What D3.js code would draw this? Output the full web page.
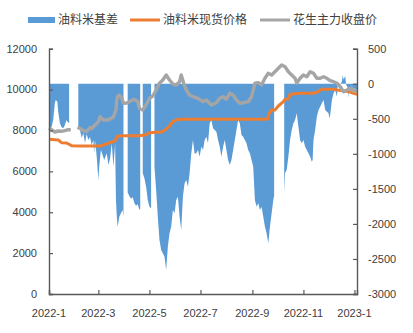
<!DOCTYPE html>
<html><head><meta charset="utf-8">
<script src="https://cdn.jsdelivr.net/npm/d3@7"></script>
<style>
html,body{margin:0;padding:0;background:#fff;}
svg{display:block;}
</style></head>
<body>
<svg id="chart" width="413" height="333"></svg>
<script>
// ---- data ----
const seriesNames = ["油料米基差", "油料米现货价格", "花生主力收盘价"];
const leftTicks = [0, 2000, 4000, 6000, 8000, 10000, 12000];
const rightTicks = [-3000, -2500, -2000, -1500, -1000, -500, 0, 500];
const xTickDates = ["2022-01-01","2022-03-01","2022-05-01","2022-07-01","2022-09-01","2022-11-01","2023-01-01"];
const xTickLabels = ["2022-1","2022-3","2022-5","2022-7","2022-9","2022-11","2023-1"];

const basisDates = ["2022-01-01","2022-01-04","2022-01-06","2022-01-08","2022-01-09","2022-01-11","2022-01-12","2022-01-14","2022-01-16","2022-01-18","2022-01-20","2022-01-22","2022-01-23","2022-01-25","2022-01-30",
"2022-02-05","2022-02-07","2022-02-09","2022-02-11","2022-02-13","2022-02-15","2022-02-17","2022-02-19","2022-02-21","2022-02-23","2022-02-24","2022-02-25","2022-02-27","2022-03-01","2022-03-02","2022-03-04","2022-03-06","2022-03-08","2022-03-11","2022-03-13","2022-03-15","2022-03-17","2022-03-19","2022-03-21","2022-03-22","2022-03-23","2022-03-24","2022-03-26","2022-03-28","2022-03-30","2022-03-31","2022-04-02",
"2022-04-05","2022-04-07","2022-04-09","2022-04-11","2022-04-13","2022-04-15","2022-04-17","2022-04-19","2022-04-20","2022-04-22",
"2022-04-23","2022-04-25","2022-04-27","2022-04-29","2022-05-01","2022-05-03","2022-05-05",
"2022-05-07","2022-05-09","2022-05-11","2022-05-13","2022-05-15","2022-05-17","2022-05-19","2022-05-21","2022-05-23","2022-05-25","2022-05-27","2022-05-29","2022-05-31","2022-06-02","2022-06-04","2022-06-06","2022-06-08","2022-06-10","2022-06-12","2022-06-14","2022-06-16","2022-06-18","2022-06-20","2022-06-22","2022-06-24","2022-06-26","2022-06-28","2022-06-30","2022-07-02","2022-07-04","2022-07-06","2022-07-08","2022-07-10","2022-07-12","2022-07-14","2022-07-16","2022-07-18","2022-07-20","2022-07-22","2022-07-24","2022-07-26","2022-07-28","2022-07-30","2022-08-01","2022-08-03","2022-08-05","2022-08-07","2022-08-09","2022-08-11","2022-08-13","2022-08-15","2022-08-17","2022-08-19","2022-08-21","2022-08-23","2022-08-25","2022-08-27","2022-08-29","2022-08-31","2022-09-02","2022-09-04","2022-09-06","2022-09-08","2022-09-10","2022-09-12","2022-09-14","2022-09-16","2022-09-18","2022-09-20","2022-09-22","2022-09-24","2022-09-26","2022-09-27","2022-10-01",
"2022-10-09","2022-10-10","2022-10-12","2022-10-14","2022-10-16","2022-10-18","2022-10-20","2022-10-22","2022-10-24","2022-10-26","2022-10-28","2022-10-30","2022-11-01","2022-11-03","2022-11-05","2022-11-07","2022-11-09","2022-11-11","2022-11-12","2022-11-13","2022-11-15","2022-11-17","2022-11-19","2022-11-21","2022-11-23","2022-11-25","2022-11-27","2022-11-29","2022-12-01","2022-12-02","2022-12-03","2022-12-05","2022-12-07","2022-12-09","2022-12-11","2022-12-12","2022-12-13","2022-12-15","2022-12-17","2022-12-18","2022-12-19","2022-12-21","2022-12-22","2022-12-24","2022-12-25","2022-12-26","2022-12-28","2022-12-29","2022-12-30","2023-01-01","2023-01-03","2023-01-04"];
const basisValues = [-636,-622,-517,-279,-232,-256,-399,-565,-622,-636,-589,-517,-541,-565,null,
-631,-660,-774,-703,-845,-717,-803,-760,-874,-803,-988,-803,-1041,-1373,-1183,-945,-1017,-1088,-992,-1159,-1064,-850,-1183,-850,-1659,-1897,-2040,-1897,-1849,-1801,-1897,null,
-1550,-1600,-1640,-1620,-1700,-1740,-1720,-1800,-1780,null,
-1278,-1349,-1469,-1659,-1754,-1778,null,
-1183,-1516,-1897,-2229,-2372,-2419,-2467,-2657,-2325,-2134,-2040,-1801,-1849,-1659,-1611,-1897,-2087,-1611,-1420,-1373,-1469,-1278,-992,-803,-1000,-992,-945,-1041,-898,-945,-803,-755,-850,-564,-517,-636,-660,-684,-803,-898,-1041,-898,-803,-945,-1088,-1159,-1088,-945,-803,-660,-517,-564,-731,-755,-803,-850,-945,-992,-1088,-1183,-1659,-1754,-1706,-1801,-1754,-1897,-2040,-2134,-2276,-2040,-1849,-1659,-1600,null,
-1563,-1278,-1231,-1041,-803,-660,-564,-517,-422,-613,-803,-850,-803,-898,-945,-992,-1041,-1112,-1088,-803,-660,-470,-375,-327,-279,-232,-375,-399,-422,-493,-446,-232,-136,-89,-185,-18,-30,-20,40,120,60,110,-10,-60,-200,-50,-160,-20,-120,-60,-100,-70];

const spotDates = ["2022-01-01","2022-01-12","2022-01-16","2022-01-22","2022-01-28","2022-02-07","2022-03-03","2022-03-07","2022-03-15","2022-03-21","2022-03-23","2022-03-27","2022-04-19","2022-04-27","2022-05-01","2022-05-17","2022-05-21","2022-05-25","2022-05-29","2022-06-02","2022-06-06","2022-09-19","2022-09-21","2022-09-24","2022-09-28","2022-10-02","2022-10-08","2022-10-10","2022-10-14","2022-10-16","2022-10-28","2022-11-13","2022-11-17","2022-11-23","2022-12-07","2022-12-11","2022-12-19","2022-12-25","2022-12-31","2023-01-04"];
const spotValues = [7568,7534,7402,7387,7255,7240,7240,7289,7402,7484,7695,7744,7744,7793,7891,7940,8072,8218,8429,8512,8546,8546,8840,9001,9001,9197,9407,9525,9539,9769,9818,9818,9867,10014,10014,9980,9946,9897,9818,9769];

const futDates = ["2022-01-01","2022-01-04","2022-01-08","2022-01-12","2022-01-16","2022-01-20","2022-01-24","2022-01-27","2022-01-31",
"2022-02-04","2022-02-07","2022-02-11","2022-02-15","2022-02-17","2022-02-19","2022-02-21","2022-02-25","2022-03-01","2022-03-03","2022-03-07","2022-03-11","2022-03-15","2022-03-19","2022-03-22","2022-03-23","2022-03-24","2022-03-26","2022-03-29","2022-03-31","2022-04-04","2022-04-09","2022-04-13","2022-04-17","2022-04-19","2022-04-23","2022-04-27","2022-05-01","2022-05-05","2022-05-09","2022-05-13","2022-05-17","2022-05-21","2022-05-25","2022-05-29","2022-06-02","2022-06-06","2022-06-08","2022-06-11","2022-06-14","2022-06-18","2022-06-22","2022-06-28","2022-07-04","2022-07-08","2022-07-14","2022-07-20","2022-07-24","2022-07-28","2022-08-01","2022-08-05","2022-08-09","2022-08-13","2022-08-17","2022-08-21","2022-08-27","2022-08-31","2022-09-04","2022-09-08","2022-09-12","2022-09-16","2022-09-20","2022-09-24","2022-09-28","2022-10-02","2022-10-06","2022-10-10","2022-10-14","2022-10-18","2022-10-22","2022-10-24","2022-10-28","2022-11-01","2022-11-05","2022-11-09","2022-11-13","2022-11-17","2022-11-21","2022-11-25","2022-11-29","2022-12-03","2022-12-07","2022-12-11","2022-12-15","2022-12-19","2022-12-23","2022-12-27","2022-12-31","2023-01-04"];
const futValues = [8121,8038,7925,7974,7959,7989,8038,8038,null,
8155,8106,7989,7940,8038,8145,8096,8267,8429,8673,8512,8512,8561,8659,9001,9505,9669,9735,9574,9329,9344,9456,9525,9407,9084,9001,9246,9574,9686,9980,10308,10469,10714,10469,10273,10224,10386,10714,10308,9980,9735,9652,9574,9407,9490,9246,9358,9574,9652,9525,9818,9735,9490,9329,9358,9407,9652,10308,10340,10224,10552,10797,10714,10875,11041,11203,11120,10875,10714,10552,10308,10552,10714,10631,10875,10797,10552,10552,10631,10552,10435,10386,10308,10141,9897,9980,10063,9980,9882];

// ---- chart ----
const parse = d3.timeParse("%Y-%m-%d");
const svg = d3.select("#chart");
const L = 49, R = 357, T = 48.7, B = 294;
const x = d3.scaleTime().domain([parse("2022-01-01"), parse("2023-01-04")]).range([L, R]);
const yL = d3.scaleLinear().domain([0, 12000]).range([B, T]);
const yR = d3.scaleLinear().domain([-3000, 500]).range([B, T]);

const basis = basisDates.map((d, i) => ({d: parse(d), v: basisValues[i]}));
const spot = spotDates.map((d, i) => ({d: parse(d), v: spotValues[i]}));
const fut = futDates.map((d, i) => ({d: parse(d), v: futValues[i]}));

const colors = ["#5B9BD5", "#ED7D31", "#A5A5A5"];

svg.append("path").datum(basis)
  .attr("fill", colors[0])
  .attr("d", d3.area().defined(d => d.v != null)
    .x(d => x(d.d)).y0(yR(0)).y1(d => yR(d.v)));

svg.append("path").datum(spot)
  .attr("fill", "none").attr("stroke", colors[1]).attr("stroke-width", 3)
  .attr("stroke-linejoin", "round")
  .attr("d", d3.line().x(d => x(d.d)).y(d => yL(d.v)));

svg.append("path").datum(fut)
  .attr("fill", "none").attr("stroke", colors[2]).attr("stroke-width", 3.4)
  .attr("stroke-linejoin", "round")
  .attr("d", d3.line().defined(d => d.v != null).x(d => x(d.d)).y(d => yL(d.v)));

// axes
const axisColor = "#595959", txtColor = "#404040";
const fnt = "'Liberation Sans', Arial, sans-serif";
const gL = svg.append("g").attr("transform", `translate(${L},0)`)
  .call(d3.axisRight(yL).tickValues(leftTicks).tickSize(4).tickFormat(""));
const gR = svg.append("g").attr("transform", `translate(${R},0)`)
  .call(d3.axisLeft(yR).tickValues(rightTicks).tickSize(4).tickFormat(""));
const gX = svg.append("g").attr("transform", `translate(0,${B})`)
  .call(d3.axisTop(x).tickValues(xTickDates.map(parse)).tickSize(4).tickFormat(""));
[gL, gR, gX].forEach(g => {
  g.select(".domain").attr("stroke", axisColor).attr("stroke-width", 1.4);
  g.selectAll(".tick line").attr("stroke", axisColor).attr("stroke-width", 1.2);
});

svg.append("g").selectAll("text").data(leftTicks).join("text")
  .attr("x", 37).attr("y", d => yL(d)).attr("dy", "0.35em")
  .attr("text-anchor", "end").attr("font-family", fnt).attr("font-size", 11)
  .attr("fill", txtColor).text(d => d);
svg.append("g").selectAll("text").data(rightTicks).join("text")
  .attr("x", 368).attr("y", d => yR(d)).attr("dy", "0.35em")
  .attr("text-anchor", "start").attr("font-family", fnt).attr("font-size", 11)
  .attr("fill", txtColor).text(d => d);
svg.append("g").selectAll("text").data(xTickDates).join("text")
  .attr("x", d => x(parse(d))).attr("y", 317)
  .attr("text-anchor", "middle").attr("font-family", fnt).attr("font-size", 11)
  .attr("fill", txtColor).text((d, i) => xTickLabels[i]);

// legend
const cjk = "'Noto Sans CJK SC', sans-serif";
const lg = svg.append("g");
const legX = [28, 130, 260];
seriesNames.forEach((n, i) => {
  if (i === 0) {
    lg.append("rect").attr("x", legX[i]).attr("y", 17).attr("width", 27).attr("height", 6).attr("fill", colors[i]);
  } else {
    lg.append("line").attr("x1", legX[i]).attr("x2", legX[i] + 30).attr("y1", 20).attr("y2", 20)
      .attr("stroke", colors[i]).attr("stroke-width", 3);
  }
  lg.append("text").attr("x", legX[i] + (i === 0 ? 30 : 33)).attr("y", 20).attr("dy", "0.36em")
    .attr("font-family", cjk).attr("font-size", 12).attr("fill", txtColor).text(n);
});
</script>
</body></html>
